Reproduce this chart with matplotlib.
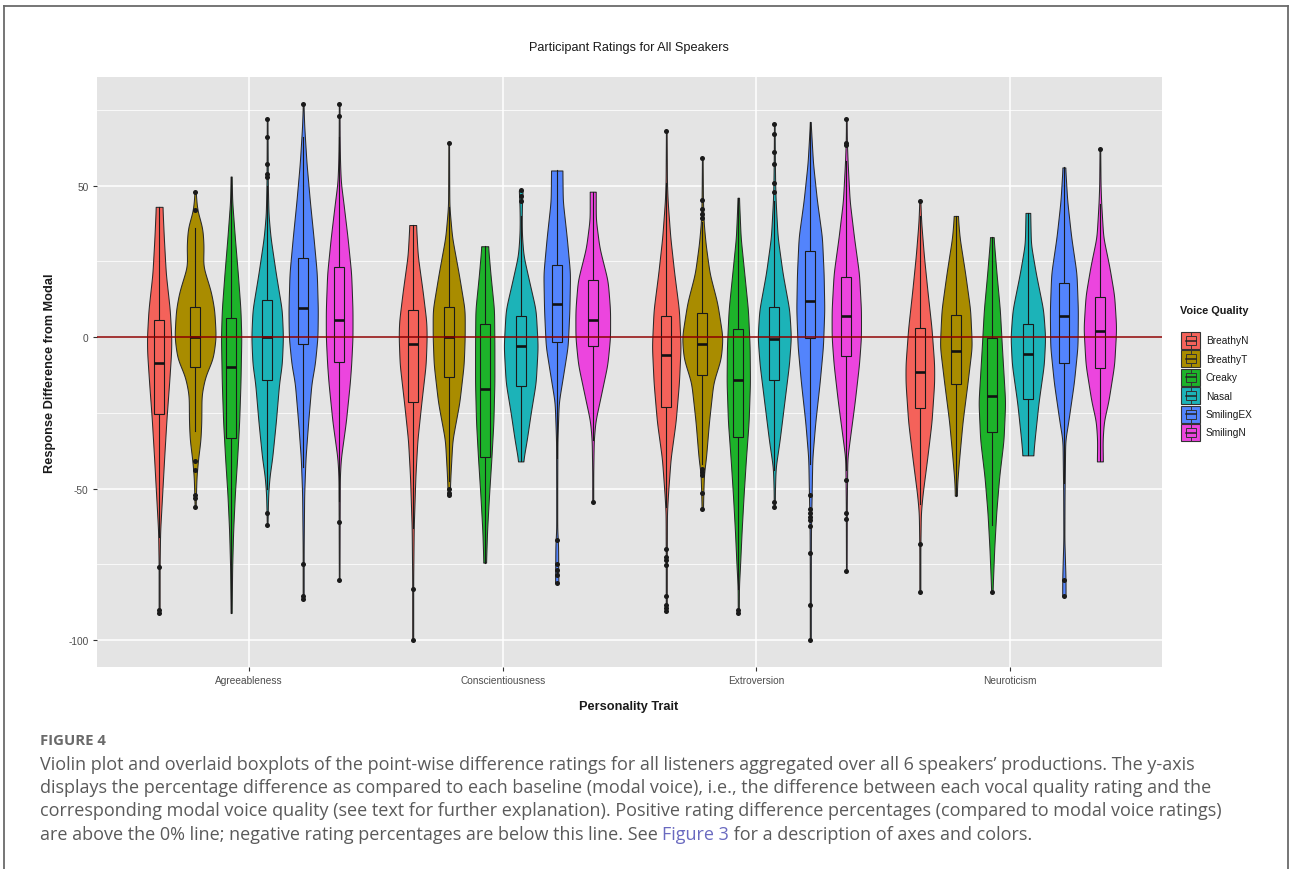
import numpy as np
import matplotlib
matplotlib.use("Agg")
import matplotlib.pyplot as plt
from matplotlib.patches import Rectangle
from matplotlib.lines import Line2D
from matplotlib.ticker import FixedLocator

# ---------------- data ----------------
TRAITS = ["Agreeableness", "Conscientiousness", "Extroversion", "Neuroticism"]
QUALITIES = ["BreathyN", "BreathyT", "Creaky", "Nasal", "SmilingEX", "SmilingN"]
COLORS = ["#F4625A", "#A98C00", "#1DB32A", "#1CB3B8", "#5384FC", "#EC45DE"]

# violin profiles: (response value, relative density)
AGR_PROFILE = [
    [(43, 20), (33, 28), (21, 40), (9, 64), (0, 73), (-5, 72), (-15, 60), (-27, 44), (-40, 30), (-52, 18), (-64, 6), (-75, 3), (-91, 3)],
    [(48, 3), (42, 12), (36, 44), (30, 51), (23.5, 47), (15, 95), (9, 115), (0, 124), (-7, 107), (-13, 60), (-19, 38), (-28, 37), (-34, 32), (-40, 18), (-46, 8), (-56, 3)],
    [(53, 3), (45, 6), (33, 22), (21, 40), (9, 56), (0, 61), (-15, 56), (-28, 48), (-40, 36), (-52, 22), (-64, 12), (-76, 6), (-91, 3)],
    [(72, 2), (60, 3), (50, 4), (40.5, 8), (33, 20), (21, 52), (9, 88), (0, 95), (-9, 88), (-15, 72), (-28, 52), (-40, 30), (-46, 14), (-52, 6), (-62, 2)],
    [(77, 2), (70, 6), (57.5, 20), (45, 40), (33, 62), (21, 82), (9, 88), (0, 86), (-9, 70), (-15, 50), (-28, 30), (-40, 14), (-52, 6), (-70, 3), (-86.5, 3)],
    [(77, 2), (65, 3), (58, 5), (51, 10), (45, 24), (33, 50), (21, 72), (9, 80), (0, 80), (-9, 72), (-15, 64), (-28, 40), (-40, 10), (-46, 4), (-60, 3), (-80, 2)],
]
CON_PROFILE = [
    [(37, 20), (27, 30), (15, 60), (5, 82), (0, 84), (-9, 78), (-21.5, 52), (-34, 28), (-46, 16), (-63, 6), (-80, 3), (-100, 3)],
    [(64, 2), (50, 3), (43, 4), (33, 20), (21, 60), (9, 96), (0, 96), (-9, 90), (-21.5, 64), (-34, 22), (-46, 10), (-52, 6)],
    [(30, 20), (21, 34), (9, 56), (-3, 58), (-15, 58), (-28, 52), (-40, 40), (-52, 26), (-64, 14), (-74.4, 8)],
    [(48.4, 12), (45, 8), (40, 6), (36, 6), (33, 8), (27, 16), (18.6, 50), (9, 90), (-3, 102), (-15, 90), (-25, 60), (-34, 36), (-41, 14)],
    [(55, 34), (45, 36), (33, 60), (21, 80), (9, 76), (-3, 66), (-12, 40), (-21.5, 12), (-34, 4), (-50, 3), (-64, 3), (-68, 8), (-76, 9), (-81, 10)],
    [(48, 18), (39, 18), (29.5, 40), (18.6, 90), (9, 104), (0, 104), (-9, 88), (-21.5, 40), (-27.6, 16), (-34, 6), (-45, 3), (-54.3, 3)],
]
EXT_PROFILE = [
    [(68, 2), (51, 4), (45, 8), (33, 24), (21, 48), (9, 76), (-3, 86), (-15, 76), (-28, 56), (-40, 26), (-52, 10), (-58, 4), (-75, 3), (-90.4, 3)],
    [(59, 2), (45, 4), (38, 8), (30.7, 20), (21, 44), (11.3, 90), (0, 122), (-7, 112), (-15, 66), (-28, 40), (-40, 22), (-45, 10), (-52, 6), (-57, 4)],
    [(46, 4), (33, 14), (21, 36), (9, 58), (-3, 68), (-15, 70), (-28, 62), (-40, 46), (-52, 32), (-64, 20), (-76, 10), (-82, 4), (-91, 3)],
    [(70, 2), (60, 3), (51, 5), (45, 8), (33, 20), (21, 50), (9, 90), (0, 100), (-9, 88), (-21.5, 60), (-34, 32), (-43, 8), (-50, 4), (-56, 3)],
    [(71, 2), (57.5, 16), (45, 40), (33, 70), (21, 80), (9, 84), (-3, 76), (-15, 56), (-28, 30), (-40, 12), (-52, 8), (-64, 4), (-80, 3), (-100, 3)],
    [(72, 2), (65, 3), (57.5, 8), (45, 20), (33, 46), (21, 76), (9, 88), (0, 88), (-9, 76), (-21.5, 50), (-34, 20), (-40, 6), (-55, 3), (-77, 2)],
]
NEU_PROFILE = [
    [(45, 3), (38, 8), (27, 24), (15, 46), (3, 70), (-9, 86), (-15, 86), (-28, 70), (-40, 44), (-52, 16), (-58, 6), (-70, 3), (-84, 3)],
    [(40, 12), (33, 22), (21, 56), (9, 86), (-3, 96), (-15, 70), (-28, 40), (-40, 20), (-48, 8), (-52.3, 6)],
    [(33, 10), (21, 28), (9, 48), (-3, 60), (-21.5, 80), (-34, 70), (-46, 44), (-58, 26), (-70, 14), (-84, 4)],
    [(41, 14), (30.7, 18), (21, 48), (9, 92), (0, 104), (-9, 96), (-21.5, 64), (-34, 40), (-39, 32)],
    [(56, 8), (45, 20), (33, 44), (21, 76), (9, 84), (-3, 82), (-15, 60), (-28, 26), (-34, 8), (-52, 4), (-67, 3), (-80, 10), (-85.3, 10)],
    [(62, 2), (50, 4), (44, 8), (33, 20), (23.5, 56), (13.7, 86), (3, 98), (-9, 86), (-21.5, 50), (-27.6, 24), (-34, 16), (-41, 18)],
]

# boxplot stats: (lower whisker, Q1, median, Q3, upper whisker)
AGR_BOX = [(-66, -25.2, -8.5, 5.8, 43), (-31, -10, 0, 10, 36), (-91, -33.3, -10, 6.2, 53),
           (-50, -14.2, 0, 12.3, 50), (-43, -2.1, 9.6, 26.2, 66), (-54, -8.1, 5.6, 23.1, 66)]
CON_BOX = [(-63, -21.3, -2.1, 9.1, 37), (-47.6, -13.2, 0, 10.1, 43), (-74.4, -39.5, -17, 4.5, 30),
           (-41, -16, -3, 6.9, 40), (-40, -1.6, 11.1, 23.9, 55), (-34, -3, 5.5, 19, 48)]
EXT_BOX = [(-56, -23, -6, 6.9, 51), (-42, -12.4, -2.1, 7.9, 38), (-83, -33, -14.2, 2.8, 46),
           (-44, -14.2, -0.5, 10, 45), (-42, -0.4, 12, 28.3, 71), (-44, -6.3, 6.9, 19.8, 58)]
NEU_BOX = [(-55, -23.3, -11.5, 3, 40), (-52.3, -15.4, -4.5, 7.4, 40), (-62, -31.2, -19.4, -0.4, 33),
           (-39, -20.5, -5.5, 4.3, 41), (-48, -8.4, 7, 18, 56), (-41, -10.1, 1.9, 13.2, 44)]

# outliers
AGR_OUT = [[-76, -90, -91], [42, 48, -41, -44, -52, -53, -56], [],
           [52.9, 54, 57, 66, 72, -58, -62], [77, -75, -85.3, -86.5], [73, 77, -61, -80]]
CON_OUT = [[-83.2, -100], [64, -50, -51.3, -52], [], [45, 46.5, 48.4],
           [-67, -75, -76.8, -78.5, -81], [-54.3]]
EXT_OUT = [[68, -70, -72.5, -73.5, -75.2, -85.3, -88.3, -89.5, -90.4],
           [39.2, 40.5, 42.3, 45.3, 59.2, -43.5, -44.5, -45.5, -51.4, -56.8],
           [-90, -91], [48, 51, 57.1, 61.1, 67.2, 70.2, -54.3, -56.1],
           [-52.1, -56.7, -57.9, -59.2, -60.4, -62.2, -71.1, -88.3, -100],
           [63.5, 64.2, 72.1, -47, -58, -60.1, -77.2]]
NEU_OUT = [[45, -68.3, -84], [], [-84], [], [-80.3, -85.3], [62]]

Y_TICKS = [-100, -50, 0, 50]
Y_MINOR = [-75, -25, 25, 75]

PROFILES = [AGR_PROFILE, CON_PROFILE, EXT_PROFILE, NEU_PROFILE]
BOXES = [AGR_BOX, CON_BOX, EXT_BOX, NEU_BOX]
OUTS = [AGR_OUT, CON_OUT, EXT_OUT, NEU_OUT]

# ---------------- style / layout ----------------
W, H = 1290, 870
DENS_SCALE = 1 / 760.0      # density -> x units (full width)
DODGE = 0.142
BOX_W = 0.038
EDGE = "#2a2a2a"
SANS = ["Liberation Sans", "DejaVu Sans"]

plt.rcParams["font.family"] = SANS

fig = plt.figure(figsize=(W / 100, H / 100), dpi=100)
fig.patch.set_facecolor("white")


def fx(x):
    return x / W


def fy(y):
    return 1 - y / H


ax = fig.add_axes([fx(97), fy(668), fx(1162) - fx(97), fy(78) - fy(668)])
ax.set_facecolor("#E4E4E4")


def draw_violin(xc, knots, color):
    v = np.array([k[0] for k in knots], float)
    d = np.array([k[1] for k in knots], float)
    o = np.argsort(v)
    v, d = v[o], d[o]
    yy = np.linspace(v[0], v[-1], 500)
    ww = np.interp(yy, v, d)
    step = yy[1] - yy[0]
    sig = 1.8 / step
    n = max(1, int(3 * sig))
    kern = np.exp(-0.5 * (np.arange(-n, n + 1) / sig) ** 2)
    kern /= kern.sum()
    ws = np.convolve(np.pad(ww, n, mode="edge"), kern, mode="valid")
    half = ws * DENS_SCALE / 2
    ax.fill_betweenx(yy, xc - half, xc + half, facecolor=color, edgecolor=EDGE,
                     linewidth=0.75, zorder=2)


for ti in range(len(TRAITS)):
    for qi in range(len(QUALITIES)):
        xc = (ti + 1) + (qi - 2.5) * DODGE
        col = COLORS[qi]
        draw_violin(xc, PROFILES[ti][qi], col)
        wlo, q1, med, q3, whi = BOXES[ti][qi]
        ax.plot([xc, xc], [q3, whi], color="#1a1a1a", lw=0.8, zorder=3)
        ax.plot([xc, xc], [wlo, q1], color="#1a1a1a", lw=0.8, zorder=3)
        ax.add_patch(Rectangle((xc - BOX_W / 2, q1), BOX_W, q3 - q1, facecolor=col,
                               edgecolor="#1a1a1a", lw=0.8, zorder=3))
        ax.plot([xc - BOX_W / 2, xc + BOX_W / 2], [med, med], color="#111111", lw=1.9,
                solid_capstyle="butt", zorder=4)
        outs = OUTS[ti][qi]
        if outs:
            ax.scatter([xc] * len(outs), outs, s=13, color="#1a1a1a", linewidths=0, zorder=5)

ax.axhline(0, color="#8B0000", lw=1.1, zorder=6)

ax.set_xlim(0.4, 4.6)
ax.set_ylim(-108.85, 85.85)
ax.set_xticks(range(1, len(TRAITS) + 1))
ax.set_xticklabels(TRAITS)
ax.set_yticks(Y_TICKS)
ax.set_yticklabels([str(t) for t in Y_TICKS])
ax.yaxis.set_minor_locator(FixedLocator(Y_MINOR))
ax.grid(which="major", color="white", lw=1.1)
ax.grid(which="minor", axis="y", color="white", lw=0.55)
ax.set_axisbelow(True)
for s in ax.spines.values():
    s.set_visible(False)
ax.tick_params(which="major", length=3, width=0.8, color="#333333", labelsize=7.3,
               labelcolor="#4d4d4d", pad=3)
ax.tick_params(which="minor", length=0)

# titles
fig.text(fx(629), fy(48), "Participant Ratings for All Speakers", ha="center", va="center",
         fontsize=9.2, color="#1a1a1a")
fig.text(fx(629), fy(707), "Personality Trait", ha="center", va="center",
         fontsize=9.2, fontweight="bold", color="#1a1a1a")
fig.text(fx(50), fy(373), "Response Difference from Modal", ha="center", va="center",
         rotation=90, fontsize=9.2, fontweight="bold", color="#1a1a1a")

# legend
fig.text(fx(1180), fy(311), "Voice Quality", ha="left", va="center", fontsize=7.8,
         fontweight="bold", color="#1a1a1a")
for qi, q in enumerate(QUALITIES):
    cy = 341.5 + qi * 18.4
    x0, kw, kh = 1181, 19, 17
    fig.add_artist(Rectangle((fx(x0), fy(cy + kh / 2)), kw / W, kh / H, transform=fig.transFigure,
                             facecolor=COLORS[qi], edgecolor="#333333", lw=0.8))
    bx0, bx1 = x0 + 4.5, x0 + kw - 4.5
    fig.add_artist(Rectangle((fx(bx0), fy(cy + 4.5)), (bx1 - bx0) / W, 9 / H,
                             transform=fig.transFigure, facecolor="none",
                             edgecolor="#333333", lw=0.7))
    fig.add_artist(Line2D([fx(bx0), fx(bx1)], [fy(cy), fy(cy)], transform=fig.transFigure,
                          color="#222222", lw=1.1))
    fig.add_artist(Line2D([fx(x0 + kw / 2)] * 2, [fy(cy - 8), fy(cy - 4.5)], transform=fig.transFigure,
                          color="#333333", lw=0.7))
    fig.add_artist(Line2D([fx(x0 + kw / 2)] * 2, [fy(cy + 4.5), fy(cy + 8)], transform=fig.transFigure,
                          color="#333333", lw=0.7))
    fig.text(fx(1206), fy(cy), q, ha="left", va="center", fontsize=7.3, color="#1a1a1a")

# frame
for xs, ys in [([4, 1288], [7, 7]), ([4, 4], [7, 870]), ([1288, 1288], [7, 870])]:
    fig.add_artist(Line2D([fx(x) for x in xs], [fy(y) for y in ys], transform=fig.transFigure,
                          color="#6a6a6a", lw=1.3))

# caption
CAP_FONT = ["Open Sans", "DejaVu Sans"]
CAP_COLOR = "#5a5a5a"
cap_lines = [
    "Violin plot and overlaid boxplots of the point-wise difference ratings for all listeners aggregated over all 6 speakers\u2019 productions. The y-axis",
    "displays the percentage difference as compared to each baseline (modal voice), i.e., the difference between each vocal quality rating and the",
    "corresponding modal voice quality (see text for further explanation). Positive rating difference percentages (compared to modal voice ratings)",
]
last_parts = [("are above the 0% line; negative rating percentages are below this line. See ", CAP_COLOR),
              ("Figure 3", "#6A6AC0"),
              (" for a description of axes and colors.", CAP_COLOR)]

renderer = fig.canvas.get_renderer()
probe = fig.text(0, 0, cap_lines[0], fontsize=12, family=CAP_FONT)
wpx = probe.get_window_extent(renderer).width
probe.remove()
cap_size = 12 * (1196 - 40) / wpx

fig.text(fx(40), fy(741), "FIGURE 4", ha="left", va="center", fontsize=cap_size * 0.82,
         family=CAP_FONT, fontweight="bold", color="#6a6a6a")
for i, line in enumerate(cap_lines):
    fig.text(fx(40), fy(765 + i * 23.2), line, ha="left", va="center", fontsize=cap_size,
             family=CAP_FONT, color=CAP_COLOR)
xcur = 40
for txt, c in last_parts:
    t = fig.text(fx(xcur), fy(765 + 3 * 23.2), txt, ha="left", va="center", fontsize=cap_size,
                 family=CAP_FONT, color=c)
    xcur += t.get_window_extent(renderer).width

fig.savefig("out.png", dpi=100)
